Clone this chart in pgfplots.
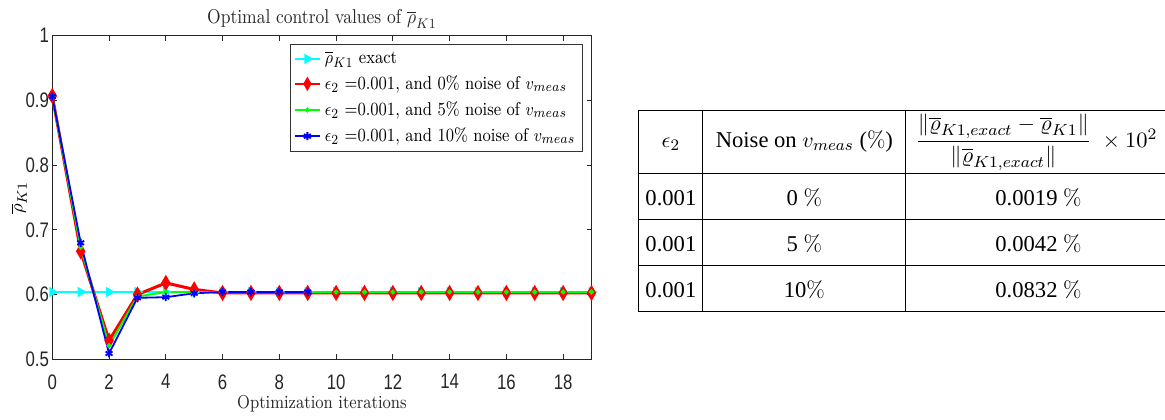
\documentclass[border=0pt]{standalone}
\usepackage{amsmath}
\usepackage{graphicx}
\usepackage{fontspec}
\usepackage{array}
\usepackage{pgfplots}
\pgfplotsset{compat=1.18}
\newfontfamily\ticksf[FakeStretch=0.8]{Liberation Sans}
\newfontfamily\timesf{Liberation Serif}

\definecolor{mcyan}{rgb}{0,1,1}
\definecolor{mgreen}{rgb}{0,1,0}
\definecolor{axgray}{rgb}{0.15,0.15,0.15}

% MATLAB text is squeezed sideways in the reference
\newcommand{\sq}[1]{\scalebox{0.866}[1]{#1}}

% shorter legend samples, as in the MATLAB legend
\pgfplotsset{every axis plot/.append style={
  legend image code/.code={\draw[mark repeat=2,mark phase=2,##1]
    plot coordinates {(0pt,0pt) (6.25pt,0pt) (12.5pt,0pt)};}}}

\begin{document}
\begin{tikzpicture}
\useasboundingbox (-26.15pt,-29.85pt) rectangle (556.35pt,179.65pt);
\begin{axis}[
  scale only axis,
  width=269.6pt, height=161.8pt,
  xmin=0, xmax=19, ymin=0.5, ymax=1,
  xtick={0,2,...,18},
  ytick={0.5,0.6,...,1},
  tick align=inside,
  major tick length=2.5pt,
  axis line style={draw=axgray, line width=0.5pt},
  every tick/.style={axgray, line width=0.4pt},
  tick label style={font=\ticksf\fontsize{10.5}{11}\selectfont, text=axgray},
  xticklabel style={yshift=-4pt},
  yticklabel style={inner xsep=1.5pt},
  /pgf/number format/assume math mode=true,
  yticklabel style={/pgf/number format/fixed, /pgf/number format/precision=1},
  title={\scalebox{0.875}[1]{Optimal control values of $\overline{\rho}_{K1}$}},
  title style={font=\fontsize{10}{11}\selectfont, text=axgray, at={(axis description cs:0.5,1)}, anchor=base, yshift=0pt, inner sep=0pt},
  xlabel={\sq{Optimization iterations}},
  xlabel style={font=\fontsize{9.3}{10}\selectfont, text=axgray, at={(axis description cs:0.5,0)}, anchor=base, yshift=-24.6pt, inner sep=0pt},
  ylabel={$\overline{\rho}_{K1}$},
  ylabel style={font=\fontsize{9.3}{10}\selectfont, at={(axis description cs:-0.062,0.5)}, anchor=center},
  legend cell align=left,
  legend style={at={(axis description cs:0.984,0.974)}, anchor=north east,
    draw=black!80, line width=0.5pt, fill=white,
    font=\fontsize{9.3}{10}\selectfont, row sep=0.6pt, inner sep=1.5pt},
  legend image post style={line width=1pt},
]
\addplot[color=mcyan, line width=1pt, mark=triangle*, mark size=2pt, mark options={rotate=-90}] coordinates {
  (0,0.604) (1,0.604) (2,0.604) (3,0.604) (4,0.604) (5,0.604) (6,0.604) (7,0.604)
  (8,0.604) (9,0.604) (10,0.604) (11,0.604) (12,0.604) (13,0.604) (14,0.604)
  (15,0.604) (16,0.604) (17,0.604) (18,0.604) (19,0.604)
};
\addlegendentry{\sq{$\overline{\rho}_{K1}$ exact}}

\addplot[color=red, line width=1.5pt, mark=diamond*, mark size=2pt, mark options={yscale=1.3}] coordinates {
  (0,0.907) (1,0.667) (2,0.529) (3,0.600) (4,0.618) (5,0.608) (6,0.6025) (7,0.6025)
  (8,0.6025) (9,0.6025) (10,0.6025) (11,0.6025) (12,0.6025) (13,0.6025) (14,0.6025)
  (15,0.6025) (16,0.6025) (17,0.6025) (18,0.6025) (19,0.6025)
};
\addlegendentry{\sq{$\epsilon_2$ =0.001, and 0\% noise of $v_{meas}$}}

\addplot[color=mgreen, line width=1pt, mark=*, mark size=0.7pt] coordinates {
  (0,0.906) (1,0.673) (2,0.521) (3,0.597) (4,0.604) (5,0.604) (6,0.604) (7,0.604)
  (8,0.604) (9,0.604) (10,0.604) (11,0.604) (12,0.604) (13,0.604) (14,0.604)
  (15,0.604) (16,0.604) (17,0.604) (18,0.604) (19,0.604)
};
\addlegendentry{\sq{$\epsilon_2$ =0.001, and 5\% noise of $v_{meas}$}}

\addplot[color=blue, line width=0.9pt, mark=asterisk, mark size=2pt] coordinates {
  (0,0.906) (1,0.680) (2,0.509) (3,0.595) (4,0.596) (5,0.602) (6,0.604) (7,0.604)
  (8,0.604) (9,0.604)
};
\addlegendentry{\sq{$\epsilon_2$ =0.001, and 10\% noise of $v_{meas}$}}
\end{axis}

\node[anchor=north west, inner sep=0pt] at (292.85pt,124.65pt) {%
  \timesf\fontsize{11.3}{13}\selectfont
  \setlength\arrayrulewidth{0.5pt}%
  \begin{tabular}{|@{\hspace{0.75pt}}>{\centering\arraybackslash}p{30pt}@{\hspace{0.75pt}}|@{\hspace{1pt}}>{\centering\arraybackslash}p{99pt}@{\hspace{1pt}}|@{\hspace{4.5pt}}>{\raggedright\arraybackslash}p{150pt}@{}}
  \hline
  \rule[-13pt]{0pt}{31pt}$\epsilon_2$ & Noise on $v_{meas}$ ($\%$) &
    \scalebox{1.03}[1]{$\dfrac{\|\overline{\varrho}_{K1,exact}-\overline{\varrho}_{K1}\|}{\|\overline{\varrho}_{K1,exact}\|}\;\times 10^2$} \\
  \hline
  \rule[-7pt]{0pt}{22.5pt}0.001 & 0 $\%$ & \hspace*{40pt}0.0019 $\%$ \\
  \hline
  \rule[-7pt]{0pt}{22.5pt}0.001 & 5 $\%$ & \hspace*{40pt}0.0042 $\%$ \\
  \hline
  \rule[-7pt]{0pt}{22.5pt}0.001 & 10$\%$ & \hspace*{40pt}0.0832 $\%$ \\
  \hline
  \end{tabular}};
\end{tikzpicture}
\end{document}
